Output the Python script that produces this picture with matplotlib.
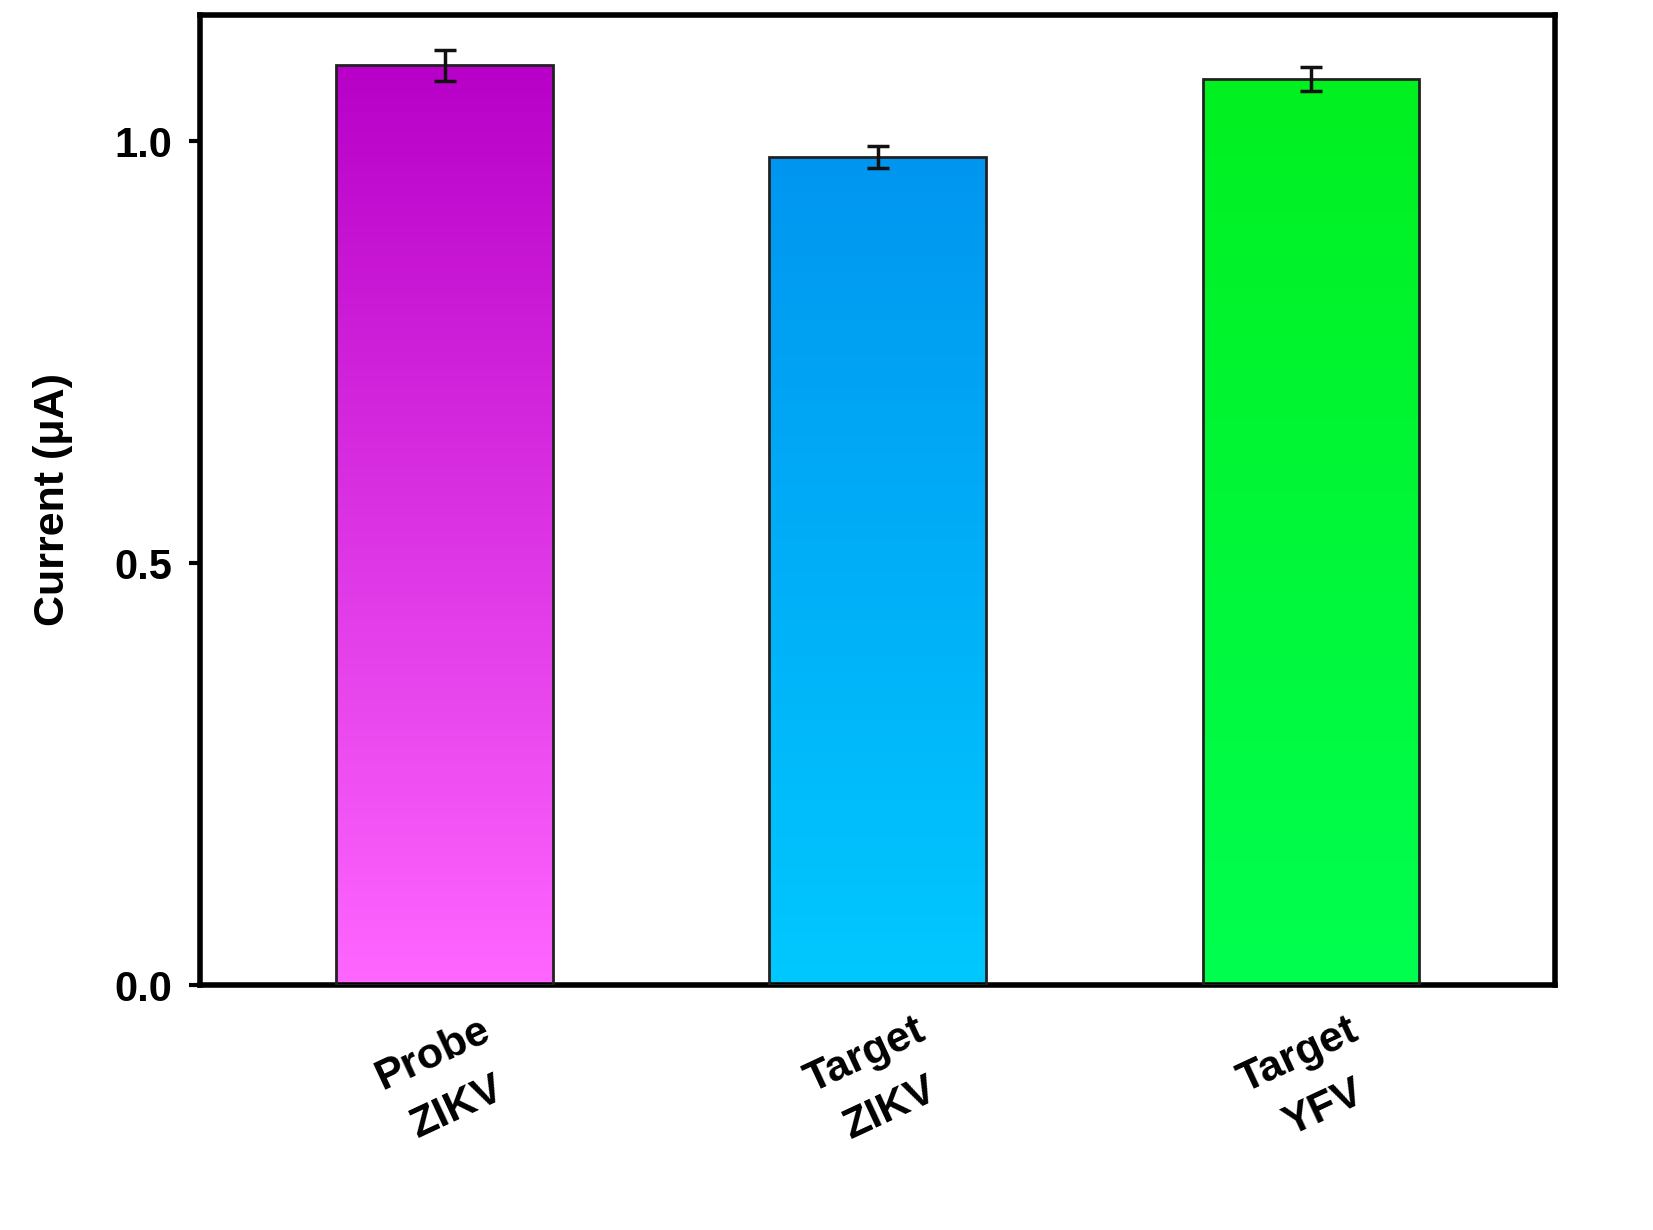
import numpy as np
import matplotlib.pyplot as plt
from matplotlib.colors import LinearSegmentedColormap

labels = ['Probe\nZIKV', 'Target\nZIKV', 'Target\nYFV']
values = [1.090, 0.982, 1.074]
errors = [0.018, 0.013, 0.014]
# colour at bar bottom, colour at bar top
grad_colors = [('#FF66FF', '#B800C8'),
               ('#00C8FF', '#0096F0'),
               ('#00FF50', '#00F020')]

plt.rcParams['font.family'] = ['Liberation Sans', 'DejaVu Sans']
plt.rcParams['font.weight'] = 'bold'

fig = plt.figure(figsize=(16.53, 12.3), dpi=100)
ax = fig.add_axes([0.121, 0.199, 0.820, 0.789])

x = np.arange(len(values))
width = 0.5
bars = ax.bar(x, values, width=width, color='none', edgecolor='#222222', linewidth=2, zorder=3)

grad = np.linspace(0, 1, 256).reshape(-1, 1)
for bar, (c0, c1) in zip(bars, grad_colors):
    cmap = LinearSegmentedColormap.from_list('g', [c0, c1])
    x0, y0 = bar.get_x(), bar.get_y()
    im = ax.imshow(grad, cmap=cmap, origin='lower', aspect='auto',
                   extent=[x0, x0 + bar.get_width(), y0, y0 + bar.get_height()], zorder=2)
    im.set_clip_path(bar)

ax.errorbar(x, values, yerr=errors, fmt='none', ecolor='#111111', elinewidth=2.5,
            capsize=8, capthick=2.5, zorder=4)

ax.set_xlim(-0.565, 2.565)
ax.set_ylim(0, 1.15)
ax.set_yticks([0.0, 0.5, 1.0])
ax.set_yticklabels(['0.0', '0.5', '1.0'])
ax.set_xticks(x)
ax.set_xticklabels(labels, rotation=25, ha='center', fontsize=31, fontweight='bold', linespacing=1.6)
ax.tick_params(axis='y', labelsize=30, width=3, length=8, direction='out', pad=12)
ax.tick_params(axis='x', length=0, pad=18)
for s in ax.spines.values():
    s.set_linewidth(4)
ax.set_ylabel('Current (μA)', fontsize=31, fontweight='bold', labelpad=30)

fig.savefig('out.png', dpi=100)
